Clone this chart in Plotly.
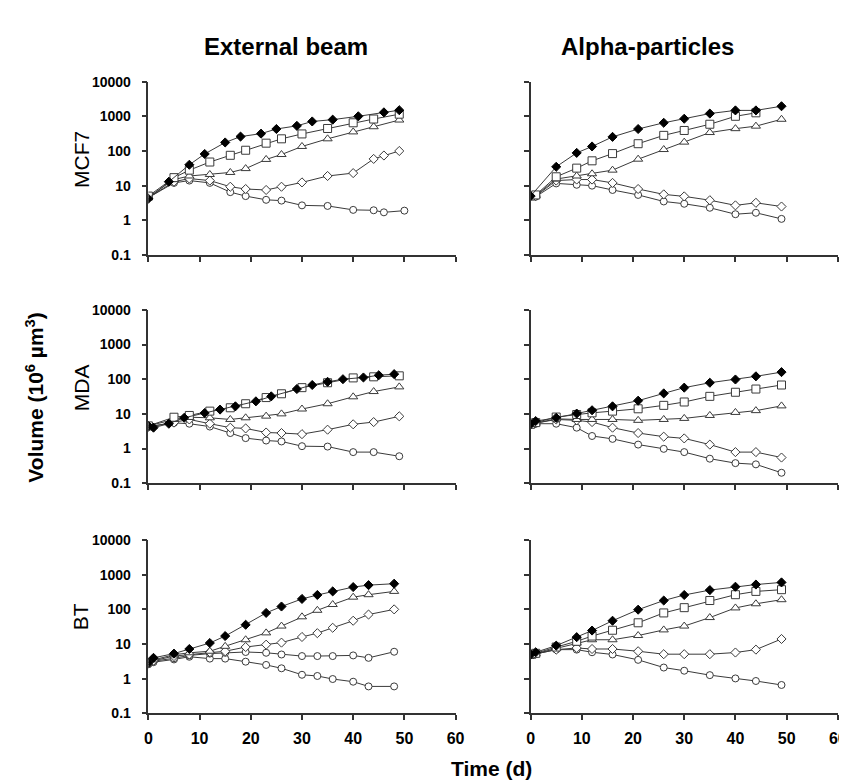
import plotly.graph_objects as go

# ---------------- data ----------------
# MCF7, External beam
mcf7_eb_fd_t = [0, 4, 8, 11, 15, 18, 22, 25, 29, 32, 36, 41, 46, 49]
mcf7_eb_fd_v = [4.2, 13, 40, 82, 176, 260, 316, 430, 530, 710, 800, 1000, 1300, 1500]
mcf7_eb_sq_t = [0, 5, 8, 12, 16, 19, 23, 26, 30, 35, 40, 44, 49]
mcf7_eb_sq_v = [5.0, 17, 28, 48, 75, 105, 168, 224, 310, 445, 650, 835, 1150]
mcf7_eb_tr_t = [0, 5, 8, 12, 16, 19, 23, 26, 30, 35, 40, 44, 49]
mcf7_eb_tr_v = [4.7, 15, 19, 21, 24, 31, 57, 79, 135, 224, 355, 500, 780]
mcf7_eb_od_t = [0, 5, 8, 12, 16, 19, 23, 26, 30, 35, 40, 44, 46, 49]
mcf7_eb_od_v = [4.5, 13, 16, 14, 9.3, 8, 7.5, 9.3, 12.4, 19, 23, 59, 74, 100]
mcf7_eb_ci_t = [0, 5, 8, 12, 16, 19, 23, 26, 30, 35, 40, 44, 46, 50]
mcf7_eb_ci_v = [4.5, 12, 14, 12, 6.5, 5, 3.9, 3.7, 2.7, 2.6, 2.0, 1.95, 1.7, 1.9]

# MCF7, Alpha-particles
mcf7_ap_fd_t = [0, 5, 9, 12, 16, 21, 26, 30, 35, 40, 44, 49]
mcf7_ap_fd_v = [5.0, 35, 88, 135, 255, 430, 650, 850, 1200, 1480, 1480, 1950]
mcf7_ap_sq_t = [0, 1, 5, 9, 12, 16, 21, 26, 30, 35, 40, 44]
mcf7_ap_sq_v = [5.0, 5.4, 18, 32, 52, 84, 162, 282, 390, 590, 1000, 1260]
mcf7_ap_tr_t = [0, 1, 5, 9, 12, 16, 21, 26, 30, 35, 40, 44, 49]
mcf7_ap_tr_v = [5.0, 5.2, 15.5, 19, 22, 28, 58, 110, 180, 340, 440, 520, 820]
mcf7_ap_od_t = [0, 1, 5, 9, 12, 16, 21, 26, 30, 35, 40, 44, 49]
mcf7_ap_od_v = [5.0, 5.0, 14, 15, 15, 12, 8, 5.6, 4.9, 3.8, 2.7, 3.2, 2.5]
mcf7_ap_ci_t = [0, 1, 5, 9, 12, 16, 21, 26, 30, 35, 40, 44, 49]
mcf7_ap_ci_v = [5.0, 4.8, 11.6, 10.6, 10, 7.5, 5.4, 3.5, 3.0, 2.3, 1.5, 1.65, 1.1]

# MDA, External beam
mda_eb_fd_t = [0, 1, 4, 7, 11, 14, 17, 21, 24, 29, 32, 35, 38, 42, 45, 48]
mda_eb_fd_v = [4.5, 4.0, 5.2, 7.7, 10.6, 13.3, 16.5, 23, 32, 52, 68, 84, 100, 112, 130, 140]
mda_eb_sq_t = [0, 5, 8, 12, 16, 19, 23, 26, 30, 35, 40, 44, 49]
mda_eb_sq_v = [4.5, 8, 9, 12, 15, 19.6, 29.5, 38, 57, 79, 109, 117, 125]
mda_eb_tr_t = [0, 5, 8, 12, 16, 19, 23, 26, 30, 35, 40, 44, 49]
mda_eb_tr_v = [4.5, 6.9, 8, 7.7, 6.9, 7.7, 8.6, 10, 13.8, 19.6, 31, 44, 60]
mda_eb_od_t = [0, 5, 8, 12, 16, 19, 23, 26, 30, 35, 40, 44, 49]
mda_eb_od_v = [4.2, 5.6, 6.9, 5.2, 4.0, 3.8, 2.9, 2.8, 2.6, 3.5, 5.0, 5.8, 8.5]
mda_eb_ci_t = [0, 5, 8, 12, 16, 19, 23, 26, 30, 35, 40, 44, 49]
mda_eb_ci_v = [4.3, 5.5, 5.2, 4.3, 2.8, 2.0, 1.7, 1.6, 1.17, 1.14, 0.79, 0.79, 0.6]

# MDA, Alpha-particles
mda_ap_fd_t = [0, 1, 5, 9, 12, 16, 21, 26, 30, 35, 40, 44, 49]
mda_ap_fd_v = [5.0, 6.2, 7.7, 10.2, 12.7, 16.5, 24, 39, 57, 79, 98, 121, 160]
mda_ap_sq_t = [0, 1, 5, 9, 12, 16, 21, 26, 30, 35, 40, 44, 49]
mda_ap_sq_v = [5.0, 5.6, 8.1, 9.6, 10.7, 12, 14, 17.6, 22, 32, 42, 52, 68]
mda_ap_tr_t = [0, 1, 5, 9, 12, 16, 21, 26, 30, 35, 40, 44, 49]
mda_ap_tr_v = [5.0, 5.4, 7.2, 6.9, 6.9, 6.9, 6.5, 6.9, 7.4, 9, 11, 12.4, 17]
mda_ap_od_t = [0, 1, 5, 9, 12, 16, 21, 26, 30, 35, 40, 44, 49]
mda_ap_od_v = [5.0, 5.4, 6.9, 6.5, 5.8, 4.0, 2.8, 2.2, 1.96, 1.3, 0.79, 0.79, 0.55]
mda_ap_ci_t = [0, 1, 5, 9, 12, 16, 21, 26, 30, 35, 40, 44, 49]
mda_ap_ci_v = [5.0, 5.2, 5.2, 4.0, 2.3, 1.9, 1.3, 0.98, 0.79, 0.51, 0.38, 0.35, 0.2]

# BT, External beam
bt_eb_fd_t = [0, 1, 5, 8, 12, 15, 19, 23, 26, 30, 33, 36, 40, 43, 48]
bt_eb_fd_v = [2.9, 4.0, 5.3, 7.2, 10.7, 17, 36, 79, 121, 200, 260, 330, 440, 500, 550]
bt_eb_tr_t = [0, 1, 5, 8, 12, 15, 19, 23, 26, 30, 33, 36, 40, 43, 48]
bt_eb_tr_v = [2.9, 3.5, 4.9, 5.6, 6.2, 8.6, 13.3, 21, 33, 61, 94, 138, 225, 265, 330]
bt_eb_od_t = [0, 1, 5, 8, 12, 15, 19, 23, 26, 30, 33, 36, 40, 43, 48]
bt_eb_od_v = [2.8, 3.3, 4.5, 5.0, 5.8, 6.2, 8.2, 9.6, 11, 16, 20.6, 29.5, 47, 71, 100]
bt_eb_c1_t = [0, 1, 5, 8, 12, 15, 19, 23, 26, 30, 33, 36, 40, 43, 48]
bt_eb_c1_v = [2.7, 3.2, 3.9, 4.7, 5.3, 5.6, 5.9, 5.6, 5.0, 4.5, 4.5, 4.5, 4.7, 4.0, 6.0]
bt_eb_c2_t = [0, 1, 5, 8, 12, 15, 19, 23, 26, 30, 33, 36, 40, 43, 48]
bt_eb_c2_v = [2.6, 3.0, 3.6, 4.3, 3.8, 3.8, 3.1, 2.5, 2.0, 1.3, 1.2, 0.98, 0.82, 0.6, 0.6]

# BT, Alpha-particles
bt_ap_fd_t = [0, 1, 5, 9, 12, 16, 21, 26, 30, 35, 40, 44, 49]
bt_ap_fd_v = [5.0, 5.8, 9, 15.8, 24.5, 47, 98, 180, 260, 360, 450, 520, 600]
bt_ap_sq_t = [0, 1, 5, 9, 12, 16, 21, 26, 30, 35, 40, 44, 49]
bt_ap_sq_v = [5.0, 5.4, 8.2, 12, 17, 25, 41, 79, 112, 180, 265, 330, 370]
bt_ap_tr_t = [0, 1, 5, 9, 12, 16, 21, 26, 30, 35, 40, 44, 49]
bt_ap_tr_v = [5.0, 5.2, 7.5, 10.7, 13.3, 13.3, 17.6, 25.6, 33, 58, 110, 145, 190]
bt_ap_od_t = [0, 1, 5, 9, 12, 16, 21, 26, 30, 35, 40, 44, 49]
bt_ap_od_v = [5.0, 5.2, 6.9, 7.7, 7.2, 7.2, 6.2, 5.1, 5.1, 5.1, 5.7, 6.9, 14]
bt_ap_ci_t = [0, 1, 5, 9, 12, 16, 21, 26, 30, 35, 40, 44, 49]
bt_ap_ci_v = [5.0, 5.2, 6.9, 6.9, 5.8, 5.0, 3.5, 2.1, 1.7, 1.27, 1.02, 0.86, 0.66]

row_labels = ["MCF7", "MDA", "BT"]
col_titles = ["External beam", "Alpha-particles"]
y_tickvals = [0.1, 1, 10, 100, 1000, 10000]
y_ticktext = ["0.1", "1", "10", "100", "1000", "10000"]
x_tickvals = [0, 10, 20, 30, 40, 50, 60]

# ---------------- styles ----------------
LINE = "#3a3a3a"
AX = "#333333"
FONT = "Liberation Sans, Arial, sans-serif"
styles = {
    "fd": dict(symbol="diamond", size=7, color="black", line=dict(color="black", width=1)),
    "sq": dict(symbol="square", size=8, color="white", line=dict(color=LINE, width=1)),
    "tr": dict(symbol="triangle-up", size=8, color="white", line=dict(color=LINE, width=1)),
    "od": dict(symbol="diamond", size=7, color="white", line=dict(color=LINE, width=1)),
    "ci": dict(symbol="circle", size=7, color="white", line=dict(color=LINE, width=1)),
}

panels = [
    (0, 0, [(mcf7_eb_ci_t, mcf7_eb_ci_v, "ci"), (mcf7_eb_od_t, mcf7_eb_od_v, "od"),
            (mcf7_eb_tr_t, mcf7_eb_tr_v, "tr"), (mcf7_eb_sq_t, mcf7_eb_sq_v, "sq"),
            (mcf7_eb_fd_t, mcf7_eb_fd_v, "fd")]),
    (0, 1, [(mcf7_ap_ci_t, mcf7_ap_ci_v, "ci"), (mcf7_ap_od_t, mcf7_ap_od_v, "od"),
            (mcf7_ap_tr_t, mcf7_ap_tr_v, "tr"), (mcf7_ap_sq_t, mcf7_ap_sq_v, "sq"),
            (mcf7_ap_fd_t, mcf7_ap_fd_v, "fd")]),
    (1, 0, [(mda_eb_ci_t, mda_eb_ci_v, "ci"), (mda_eb_od_t, mda_eb_od_v, "od"),
            (mda_eb_tr_t, mda_eb_tr_v, "tr"), (mda_eb_sq_t, mda_eb_sq_v, "sq"),
            (mda_eb_fd_t, mda_eb_fd_v, "fd")]),
    (1, 1, [(mda_ap_ci_t, mda_ap_ci_v, "ci"), (mda_ap_od_t, mda_ap_od_v, "od"),
            (mda_ap_tr_t, mda_ap_tr_v, "tr"), (mda_ap_sq_t, mda_ap_sq_v, "sq"),
            (mda_ap_fd_t, mda_ap_fd_v, "fd")]),
    (2, 0, [(bt_eb_c2_t, bt_eb_c2_v, "ci"), (bt_eb_c1_t, bt_eb_c1_v, "ci"),
            (bt_eb_od_t, bt_eb_od_v, "od"), (bt_eb_tr_t, bt_eb_tr_v, "tr"),
            (bt_eb_fd_t, bt_eb_fd_v, "fd")]),
    (2, 1, [(bt_ap_ci_t, bt_ap_ci_v, "ci"), (bt_ap_od_t, bt_ap_od_v, "od"),
            (bt_ap_tr_t, bt_ap_tr_v, "tr"), (bt_ap_sq_t, bt_ap_sq_v, "sq"),
            (bt_ap_fd_t, bt_ap_fd_v, "fd")]),
]

W, H = 847, 780
x_dom_px = [(138.5, 450.5), (526.7, 838.7)]
y_dom_px = [(67, 244), (300, 477), (535, 712)]

fig = go.Figure()
layout = dict(
    width=W, height=H, margin=dict(l=0, r=0, t=0, b=0),
    paper_bgcolor="white", plot_bgcolor="white", showlegend=False,
    font=dict(family=FONT, color="black"),
)

for r, c, series in panels:
    idx = r * 2 + c + 1
    xa = "x" if idx == 1 else f"x{idx}"
    ya = "y" if idx == 1 else f"y{idx}"
    for t, v, st in series:
        fig.add_trace(go.Scatter(
            x=t, y=v, mode="lines+markers", xaxis=xa, yaxis=ya,
            line=dict(color=LINE, width=1), marker=styles[st], hoverinfo="skip",
        ))
    x0, x1 = x_dom_px[c]
    yt, yb = y_dom_px[r]
    layout["xaxis" if idx == 1 else f"xaxis{idx}"] = dict(
        domain=[x0 / W, x1 / W], anchor=ya, range=[0, 60],
        tickvals=x_tickvals, showticklabels=(r == 2),
        ticks="outside", ticklen=5, tickwidth=1.5, tickcolor=AX,
        ticklabelstandoff=5,
        showline=True, linecolor=AX, linewidth=1.5,
        showgrid=False, zeroline=False,
        tickfont=dict(size=16, weight="bold", family=FONT, color="black"),
    )
    layout["yaxis" if idx == 1 else f"yaxis{idx}"] = dict(
        domain=[1 - yb / H, 1 - yt / H], anchor=xa, type="log", range=[-1, 4],
        tickvals=y_tickvals, ticktext=y_ticktext, showticklabels=(c == 0),
        ticks="outside", ticklen=5, tickwidth=1.5, tickcolor=AX,
        ticklabelstandoff=8,
        showline=True, linecolor=AX, linewidth=1.5,
        showgrid=False, zeroline=False,
        tickfont=dict(size=14, weight="bold", family=FONT, color="black"),
    )

annotations = []
for title, cx in zip(col_titles, [278, 645]):
    annotations.append(dict(text=title, x=cx / W, y=1 - 31 / H, xref="paper", yref="paper",
                            showarrow=False, xanchor="center", yanchor="middle",
                            font=dict(size=24, weight="bold")))
for lab, cy in zip(row_labels, [146, 379, 613]):
    annotations.append(dict(text=lab, x=70 / W, y=1 - cy / H, xref="paper", yref="paper",
                            showarrow=False, textangle=-90, xanchor="center", yanchor="middle",
                            font=dict(size=21)))
annotations.append(dict(text="Volume (10<sup>6</sup> µm<sup>3</sup>)", x=23 / W, y=1 - 390 / H,
                        xref="paper", yref="paper", showarrow=False, textangle=-90,
                        xanchor="center", yanchor="middle", font=dict(size=21, weight="bold")))
annotations.append(dict(text="Time (d)", x=487 / W, y=1 - 768 / H, xref="paper", yref="paper",
                        showarrow=False, xanchor="center", yanchor="middle",
                        font=dict(size=21, weight="bold")))
layout["annotations"] = annotations

fig.update_layout(**layout)
fig.write_html("out.html")
